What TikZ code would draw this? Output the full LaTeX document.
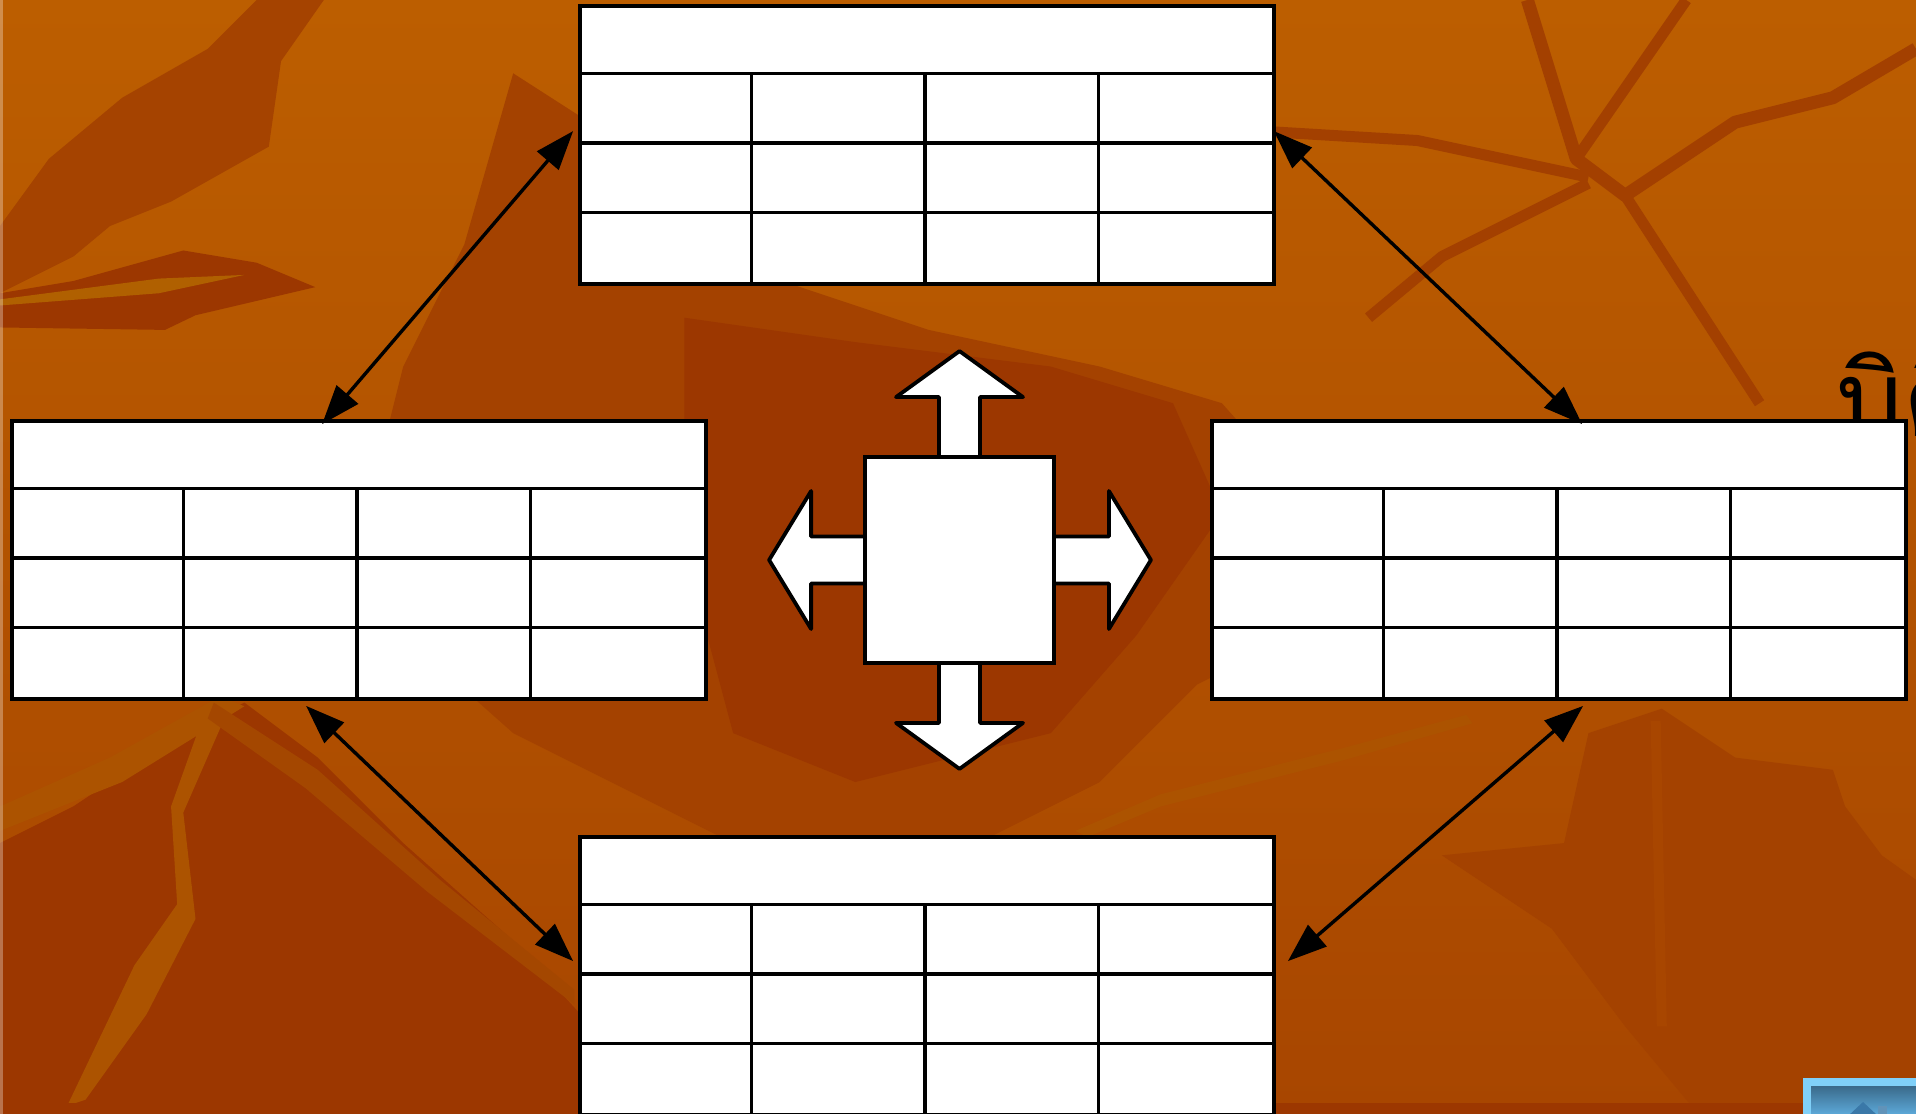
\documentclass[tikz,border=0pt]{standalone}
\usepackage{fontspec}
\newfontfamily\thaifont[Script=Thai]{Loma}
\usetikzlibrary{arrows.meta,calc}
\definecolor{BgBase}{RGB}{178,82,0}
\definecolor{BgLight}{RGB}{188,94,0}
\definecolor{BgMid}{RGB}{168,70,0}
\definecolor{BgDark}{RGB}{156,55,0}
\definecolor{BgStreak}{RGB}{176,96,0}
\definecolor{BtnRim}{RGB}{128,208,248}
\definecolor{BtnTop}{RGB}{58,106,138}
\definecolor{BtnBot}{RGB}{92,168,216}
\definecolor{BtnIcon}{RGB}{58,120,168}

\begin{document}
\begin{tikzpicture}[x=0.1mm,y=-0.1mm,
  tablebox/.style={draw,fill=white,line width=0.38mm,inner sep=0pt,
    minimum width=69.4mm,minimum height=27.8mm},
  gridline/.style={line width=0.34mm},
  hubbox/.style={draw,fill=white,line width=0.38mm,inner sep=0pt,
    minimum width=18.9mm,minimum height=20.6mm},
  bigarrow/.style={draw,fill=white,line width=0.38mm,line join=round},
  linkarrow/.style={line width=0.34mm,
    {Triangle[length=3.9mm,width=2.8mm]}-{Triangle[length=3.9mm,width=2.8mm]}}]
\useasboundingbox (0,0) rectangle (1916,1114);
\clip (0,0) rectangle (1916,1114);

% background leaves
\shade[top color=BgLight,bottom color=BgMid] (0,0) rectangle (1916,1114);
\begin{scope}[scale=1.2219]
\fill[BgMid!70!BgDark] (420,60) -- (560,150) -- (640,230) -- (760,270) -- (900,300)
  -- (1000,330) -- (1080,420) -- (1060,520) -- (980,560) -- (900,640) -- (780,700)
  -- (620,700) -- (520,650) -- (420,600) -- (330,520) -- (300,420) -- (330,300)
  -- (380,200) -- cycle;
\fill[BgDark] (560,260) -- (700,280) -- (860,300) -- (960,330) -- (1000,420)
  -- (930,520) -- (860,600) -- (700,640) -- (600,600) -- (560,450) -- cycle;
\fill[BgDark] (0,690) -- (60,660) -- (150,600) -- (200,575) -- (260,620) -- (330,690)
  -- (420,770) -- (475,830) -- (480,912) -- (0,912) -- cycle;
\fill[BgStreak!50!BgMid] (0,660) -- (90,620) -- (180,570) -- (200,578) -- (100,640)
  -- (0,680) -- cycle;
\fill[BgStreak!50!BgMid] (140,660) -- (165,590) -- (185,585) -- (150,665) -- (160,752)
  -- (120,830) -- (70,900) -- (55,905) -- (110,790) -- (145,740) -- cycle;
\fill[BgStreak!40!BgDark] (175,575) -- (260,630) -- (360,720) -- (470,810) -- (470,822)
  -- (350,730) -- (250,645) -- (170,588) -- cycle;
\fill[BgMid!80!BgDark] (0,185) -- (40,130) -- (100,80) -- (170,40) -- (210,0)
  -- (265,0) -- (230,50) -- (220,120) -- (140,165) -- (90,185) -- (60,210)
  -- (0,240) -- cycle;
\fill[BgDark] (0,240) -- (60,230) -- (150,205) -- (210,215) -- (258,235) -- (160,258)
  -- (135,270) -- (0,268) -- cycle;
\fill[BgStreak] (0,245) -- (130,228) -- (200,225) -- (130,240) -- (0,250) -- cycle;
\draw[BgMid!60!BgDark,line width=1.3mm,line join=round]
  (1250,0) -- (1290,130) -- (1330,160) -- (1420,100) -- (1500,80) -- (1568,40);
\draw[BgMid!60!BgDark,line width=1.1mm,line join=round]
  (1290,130) -- (1380,0) (1330,160) -- (1440,330)
  (1300,150) -- (1180,210) -- (1120,260) (1043,108) -- (1160,115) -- (1300,145);
\fill[BgMid!70!BgDark] (1180,700) -- (1280,690) -- (1300,600) -- (1360,580)
  -- (1420,620) -- (1500,630) -- (1510,660) -- (1540,700) -- (1568,720)
  -- (1568,912) -- (1390,912) -- (1330,840) -- (1270,760) -- cycle;
\draw[BgMid,line width=1mm] (1355,590) -- (1360,840);
\fill[BgStreak!50!BgMid] (880,680) -- (950,650) -- (1100,612) -- (1200,585)
  -- (1205,592) -- (1100,622) -- (950,660) -- (890,685) -- cycle;
\fill[BgDark] (0,903) rectangle (1568,912);
\end{scope}
\fill[white,opacity=0.3] (0,0) rectangle (3,1114);

% half-hidden title
\node[anchor=base west,inner sep=0pt,font=\thaifont\fontsize{30}{36}\selectfont]
  (title) at (1836,437) {บิติ};

% tables
\node[tablebox] (tabTop) at (927,145) {};
\node[tablebox] (tabLeft) at (359,560) {};
\node[tablebox] (tabRight) at (1559,560) {};
\node[tablebox] (tabBot) at (927,976) {};
\foreach \tb in {tabTop,tabLeft,tabRight,tabBot}{
  \foreach \r in {1,2,3}
    \draw[gridline] ($(\tb.north west)+(0,\r*69.5)$) -- ($(\tb.north east)+(0,\r*69.5)$);
  \foreach \c in {1,2,3}
    \draw[gridline] ($(\tb.north west)+(\c*173.5,69.5)$) -- ($(\tb.south west)+(\c*173.5,0)$);
}

% centre with four arrows
\node[hubbox] (hub) at (959.5,560) {};
\draw[bigarrow] ($(hub.north)+(-20.5,2)$) -- ++(0,-60) -- ++(-43,0) -- ++(63.5,-46)
  -- ++(63.5,46) -- ++(-43,0) -- ++(0,60);
\draw[bigarrow] ($(hub.south)+(-20.5,-2)$) -- ++(0,60) -- ++(-43,0) -- ++(63.5,46)
  -- ++(63.5,-46) -- ++(-43,0) -- ++(0,-60);
\draw[bigarrow] ($(hub.west)+(2,-23.5)$) -- ++(-54,0) -- ++(0,-45.5) -- ++(-42,69)
  -- ++(42,69) -- ++(0,-45.5) -- ++(54,0);
\draw[bigarrow] ($(hub.east)+(-2,-23.5)$) -- ++(55,0) -- ++(0,-45.5) -- ++(42,69)
  -- ++(-42,69) -- ++(0,-45.5) -- ++(-55,0);
\node[hubbox] (hub) at (959.5,560) {};

% links between tables
\coordinate (pTL1) at ($(tabLeft.north west)+(312,5)$);
\coordinate (pTL2) at ($(tabTop.north west)+(-5,127)$);
\coordinate (pTR1) at ($(tabTop.north east)+(-2,127)$);
\coordinate (pTR2) at ($(tabRight.north west)+(372,5)$);
\coordinate (pBL1) at ($(tabLeft.south west)+(296,5)$);
\coordinate (pBL2) at ($(tabBot.north west)+(-5,126)$);
\coordinate (pBR1) at ($(tabRight.south west)+(373,5)$);
\coordinate (pBR2) at ($(tabBot.north east)+(12,126)$);
\draw[linkarrow] (pTL1) -- (pTL2);
\draw[linkarrow] (pTR1) -- (pTR2);
\draw[linkarrow] (pBL1) -- (pBL2);
\draw[linkarrow] (pBR1) -- (pBR2);

% nav button
\fill[BtnRim] (1803,1078) rectangle (1916,1114);
\shade[top color=BtnTop,bottom color=BtnBot] (1811,1086) rectangle (1916,1114);
\fill[BtnIcon] (1863,1102) -- (1878,1116) -- (1848,1116) -- cycle;
\fill[BtnIcon!80!white] (1878,1106) rectangle (1887,1114);
\end{tikzpicture}
\end{document}
